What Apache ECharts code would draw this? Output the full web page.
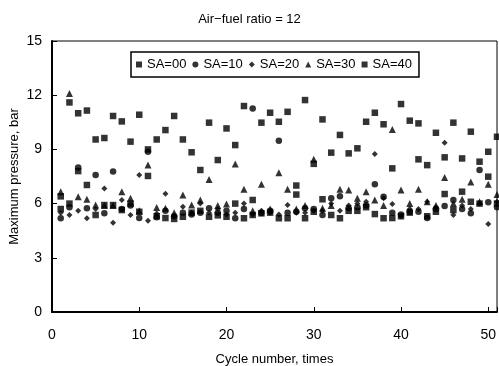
<!DOCTYPE html>
<html>
<head>
<meta charset="utf-8">
<script src="https://cdn.jsdelivr.net/npm/echarts@6/dist/echarts.min.js"></script>
<style>
html, body { margin: 0; padding: 0; background: #fff; }
#chart { width: 499px; height: 366px; }
</style>
</head>
<body>
<div id="chart"></div>
<script>
// cycle numbers (x)
var cycles = [1, 2, 3, 4, 5, 6, 7, 8, 9, 10, 11, 12, 13, 14, 15, 16, 17, 18, 19, 20,
    21, 22, 23, 24, 25, 26, 27, 28, 29, 30, 31, 32, 33, 34, 35, 36, 37, 38, 39, 40,
    41, 42, 43, 44, 45, 46, 47, 48, 49, 50, 51];

// maximum pressure, bar
var sa00 = [5.7, 6.0, 7.8, 7.03, 5.37, 5.92, 5.92, 5.64, 6.0, 5.55, 7.53, 5.3, 5.2, 5.15, 5.27, 5.5, 5.6, 5.27, 5.35, 5.27,
    6.0, 5.19, 5.37, 5.46, 5.5, 5.19, 5.19, 6.5, 5.19, 5.55, 6.24, 5.37, 5.19, 5.6, 5.6, 5.8, 5.42, 5.19, 5.2, 5.3,
    5.5, 8.45, 5.3, 5.55, 6.53, 5.64, 6.66, 6.1, 6.0, 7.49, 6.0];
var sa10 = [5.19, 5.8, 8.0, 5.74, 7.58, 5.46, 7.77, 5.7, 5.9, 5.2, 8.87, 5.25, 5.6, 5.3, 5.5, 5.4, 5.5, 5.74, 5.5, 5.6,
    5.19, 5.7, 11.27, 5.5, 5.6, 9.48, 5.5, 5.55, 5.74, 5.7, 5.37, 6.3, 6.4, 5.74, 5.8, 5.9, 7.07, 6.38, 5.5, 5.4,
    5.55, 5.55, 5.2, 5.7, 5.87, 6.2, 5.7, 5.46, 7.86, 6.07, 5.8];
var sa20 = [5.5, 5.37, 5.6, 5.19, 5.7, 6.84, 4.94, 6.2, 5.37, 7.58, 5.05, 5.45, 6.55, 5.3, 5.83, 5.5, 6.0, 5.5, 5.7, 5.4,
    5.5, 6.0, 5.4, 5.6, 5.5, 5.4, 5.92, 5.5, 5.5, 5.6, 5.6, 6.0, 5.6, 5.9, 6.0, 6.1, 8.74, 6.3, 5.98, 5.3,
    5.7, 5.7, 6.1, 5.8, 9.37, 5.37, 5.9, 5.7, 6.0, 4.87, 6.1];
var sa30 = [6.66, 12.1, 6.38, 6.24, 5.92, 5.9, 5.9, 6.66, 6.3, 5.6, 8.13, 5.79, 5.74, 5.5, 6.47, 5.92, 6.2, 7.34, 5.9, 5.98,
    8.19, 6.79, 5.6, 7.07, 5.7, 7.71, 6.79, 5.7, 5.9, 8.45, 5.74, 5.9, 6.79, 6.75, 6.3, 6.66, 6.2, 5.9, 10.1, 6.75,
    6.0, 6.79, 6.1, 5.9, 7.45, 6.0, 6.24, 7.2, 6.1, 7.07, 6.5];
var sa40 = [6.4, 11.6, 11.0, 11.15, 9.55, 9.63, 10.85, 10.55, 9.43, 10.92, 9.0, 9.55, 10.07, 10.85, 9.55, 8.84, 7.86, 10.48, 8.41, 10.16,
    9.24, 11.4, 6.2, 10.48, 11.03, 10.53, 11.08, 7.0, 11.73, 8.2, 10.66, 8.82, 9.8, 8.78, 9.06, 10.53, 11.03, 10.39, 7.95, 11.51,
    10.59, 10.44, 8.13, 9.92, 8.56, 10.48, 8.5, 9.98, 8.32, 8.87, 9.7];

var seriesNames = ['SA=00', 'SA=10', 'SA=20', 'SA=30', 'SA=40'];
var seriesData = [sa00, sa10, sa20, sa30, sa40];
var symbols = ['rect', 'circle', 'diamond', 'triangle', 'rect'];
var sizes = [6.5, 6.5, 6, 7, 6.5];

var yTicks = [0, 3, 6, 9, 12, 15];
var xTicks = [0, 10, 20, 30, 40, 50];

var font = "'Liberation Sans', Arial, sans-serif";

function pairs(ys) {
    var out = [];
    for (var i = 0; i < cycles.length; i++) {
        out.push([cycles[i], ys[i]]);
    }
    return out;
}

var myChart = echarts.init(document.getElementById('chart'), null, { renderer: 'canvas' });

var series = [];
for (var k = 0; k < seriesNames.length; k++) {
    series.push({
        name: seriesNames[k],
        type: 'scatter',
        symbol: symbols[k],
        symbolSize: sizes[k],
        itemStyle: { color: '#000' },
        data: pairs(seriesData[k]),
        animation: false
    });
}

var option = {
    backgroundColor: '#fff',
    textStyle: { fontFamily: font },
    title: {
        text: 'Air\u2212fuel ratio = 12',
        left: 'center',
        top: 8,
        textStyle: { fontSize: 13, fontWeight: 'normal', color: '#000', fontFamily: font }
    },
    legend: {
        left: 131,
        top: 52,
        itemWidth: 6,
        itemHeight: 6,
        itemGap: 6,
        padding: [6, 7, 6, 5],
        borderColor: '#000',
        borderWidth: 1.5,
        textStyle: { fontSize: 13, color: '#000', fontFamily: font },
        data: seriesNames.map(function (n, i) {
            return { name: n, icon: symbols[i] };
        })
    },
    grid: {
        left: 52,
        right: 2,
        top: 41,
        bottom: 54,
        containLabel: false,
        outerBoundsMode: 'none',
        show: true,
        borderColor: '#000',
        borderWidth: 1
    },
    xAxis: {
        type: 'value',
        min: 0,
        max: 51,
        interval: 10,
        name: 'Cycle number, times',
        nameLocation: 'middle',
        nameGap: 41,
        nameMoveOverlap: false,
        nameTextStyle: { fontSize: 13, color: '#000', fontFamily: font },
        axisLine: { lineStyle: { color: '#000', width: 2 } },
        axisTick: { inside: true, length: 5, lineStyle: { color: '#000' } },
        axisLabel: {
            margin: 16,
            fontSize: 14,
            color: '#000',
            fontFamily: font,
            formatter: function (v) { return xTicks.indexOf(v) >= 0 ? String(v) : ''; }
        },
        splitLine: { show: false }
    },
    yAxis: {
        type: 'value',
        min: yTicks[0],
        max: yTicks[yTicks.length - 1],
        interval: 3,
        name: 'Maximum pressure, bar',
        nameLocation: 'middle',
        nameGap: 31,
        nameMoveOverlap: false,
        nameTextStyle: { fontSize: 13, color: '#000', fontFamily: font },
        axisLine: { show: true, lineStyle: { color: '#000', width: 2 } },
        axisTick: { show: true, inside: true, length: 5, lineStyle: { color: '#000' } },
        axisLabel: { margin: 10, fontSize: 14, color: '#000', fontFamily: font },
        splitLine: { show: false }
    },
    series: series
};
myChart.setOption(option);
</script>
</body>
</html>
